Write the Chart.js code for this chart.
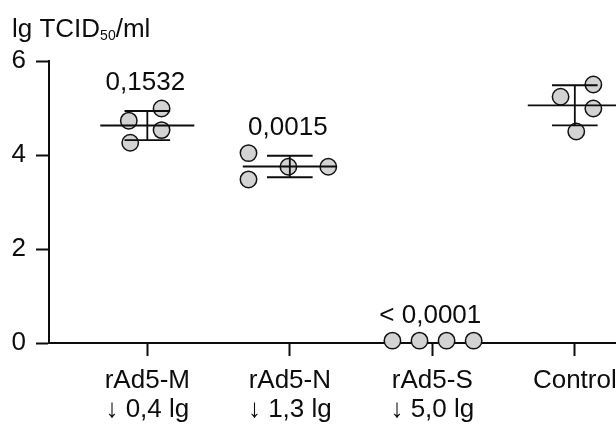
<!DOCTYPE html>
<html>
<head>
<meta charset="utf-8">
<script src="https://cdn.jsdelivr.net/npm/chart.js@4"></script>
<style>
  html, body { margin: 0; padding: 0; background: #fff; overflow: hidden; }
  #wrap { width: 680px; height: 427px; }
</style>
</head>
<body>
<div id="wrap"><canvas id="chart"></canvas></div>
<script>
// groups and labels
const groups = ['rAd5-M', 'rAd5-N', 'rAd5-S', 'Control'];
const reductions = ['↓ 0,4 lg', '↓ 1,3 lg', '↓ 5,0 lg', ''];
const pValues = ['0,1532', '0,0015', '< 0,0001', ''];

// lg TCID50/ml per animal
const titerM = [4.73, 4.99, 4.53, 4.26];
const titerN = [4.04, 3.48, 3.75, 3.75];
const titerS = [0.05, 0.05, 0.05, 0.05];
const titerControl = [5.24, 5.50, 4.99, 4.50];

// horizontal scatter of the dots around each group (category units)
const jitterM = [-0.13, 0.10, 0.10, -0.12];
const jitterN = [-0.29, -0.29, -0.01, 0.27];
const jitterS = [-0.28, -0.09, 0.10, 0.29];
const jitterControl = [-0.10, 0.13, 0.13, 0.01];

const yTicks = [0, 2, 4, 6];

const allTiters = [titerM, titerN, titerS, titerControl];
const allJitter = [jitterM, jitterN, jitterS, jitterControl];

const FONT = 'Liberation Sans, Arial, Helvetica, sans-serif';
const INK = '#0d0d0d';

function mean(arr) {
  return arr.reduce((a, b) => a + b, 0) / arr.length;
}
function sd(arr) {
  const m = mean(arr);
  return Math.sqrt(arr.reduce((a, b) => a + (b - m) * (b - m), 0) / (arr.length - 1));
}

// dots
const dotData = [];
allTiters.forEach((vals, g) => {
  vals.forEach((v, i) => dotData.push({ x: g + 1 + allJitter[g][i], y: v }));
});

// mean line + SD whisker with caps, broken with nulls
const MEAN_HALF = 0.33;
const CAP_HALF = 0.16;
const barData = [];
allTiters.forEach((vals, g) => {
  const m = mean(vals);
  const s = sd(vals);
  if (s === 0) return; // all at detection limit, Prism shows no bar
  const c = g + 1;
  barData.push({ x: c - MEAN_HALF, y: m }, { x: c + MEAN_HALF, y: m }, { x: c, y: null });
  barData.push({ x: c - CAP_HALF, y: m + s }, { x: c + CAP_HALF, y: m + s }, { x: c, y: null });
  barData.push({ x: c - CAP_HALF, y: m - s }, { x: c + CAP_HALF, y: m - s }, { x: c, y: null });
  barData.push({ x: c, y: m - s }, { x: c, y: m + s }, { x: c, y: null });
});

// p value above each group + y axis title
const textPlugin = {
  id: 'texts',
  afterDatasetsDraw(chart) {
    const ctx = chart.ctx;
    const xs = chart.scales.x;
    const ys = chart.scales.y;
    ctx.save();
    ctx.fillStyle = INK;
    ctx.textAlign = 'center';
    ctx.textBaseline = 'alphabetic';
    ctx.font = '26px ' + FONT;
    pValues.forEach((p, g) => {
      if (!p) return;
      const top = Math.max(...allTiters[g]);
      ctx.fillText(p, xs.getPixelForValue(g + 1) - 2, ys.getPixelForValue(top) - 18);
    });

    // lg TCID50/ml
    ctx.textAlign = 'left';
    let x = 12;
    const base = 37;
    ctx.font = '26px ' + FONT;
    ctx.fillText('lg TCID', x, base);
    x += ctx.measureText('lg TCID').width;
    ctx.font = '14px ' + FONT;
    ctx.fillText('50', x, base + 3);
    x += ctx.measureText('50').width;
    ctx.font = '26px ' + FONT;
    ctx.fillText('/ml', x, base);
    ctx.restore();
  }
};

Chart.defaults.font.family = FONT;
Chart.defaults.color = INK;

new Chart(document.getElementById('chart'), {
  type: 'scatter',
  data: {
    datasets: [
      {
        type: 'line',
        data: barData,
        borderColor: INK,
        borderWidth: 1.8,
        pointRadius: 0,
        spanGaps: false,
        clip: false,
        order: 1
      },
      {
        data: dotData,
        pointRadius: 8.2,
        borderWidth: 1.5,
        backgroundColor: '#d3d3d3',
        borderColor: '#111',
        clip: false,
        order: 2
      }
    ]
  },
  options: {
    responsive: true,
    maintainAspectRatio: false,
    animation: false,
    layout: { padding: { top: 61, left: 0, right: 0, bottom: 0 } },
    plugins: {
      legend: { display: false },
      tooltip: { enabled: false }
    },
    scales: {
      x: {
        type: 'linear',
        min: 0.31,
        max: 4.67,
        afterBuildTicks(scale) {
          scale.ticks = groups.map((g, i) => ({ value: i + 1 }));
        },
        afterFit(scale) { scale.height = 84; },
        border: { color: INK, width: 2 },
        grid: { drawOnChartArea: false, tickLength: 13, tickWidth: 2, tickColor: INK },
        ticks: {
          autoSkip: false,
          maxRotation: 0,
          padding: 11,
          font: { size: 26, lineHeight: 1.1 },
          callback(value, index) {
            return reductions[index] ? [groups[index], reductions[index]] : groups[index];
          }
        }
      },
      y: {
        min: 0,
        max: 6,
        afterBuildTicks(scale) {
          scale.ticks = yTicks.map(v => ({ value: v }));
        },
        afterFit(scale) { scale.width = 49; },
        border: { color: INK, width: 2 },
        grid: { drawOnChartArea: false, tickLength: 13, tickWidth: 2, tickColor: INK },
        ticks: {
          padding: 10,
          font: { size: 26 }
        }
      }
    }
  },
  plugins: [textPlugin]
});
</script>
</body>
</html>
